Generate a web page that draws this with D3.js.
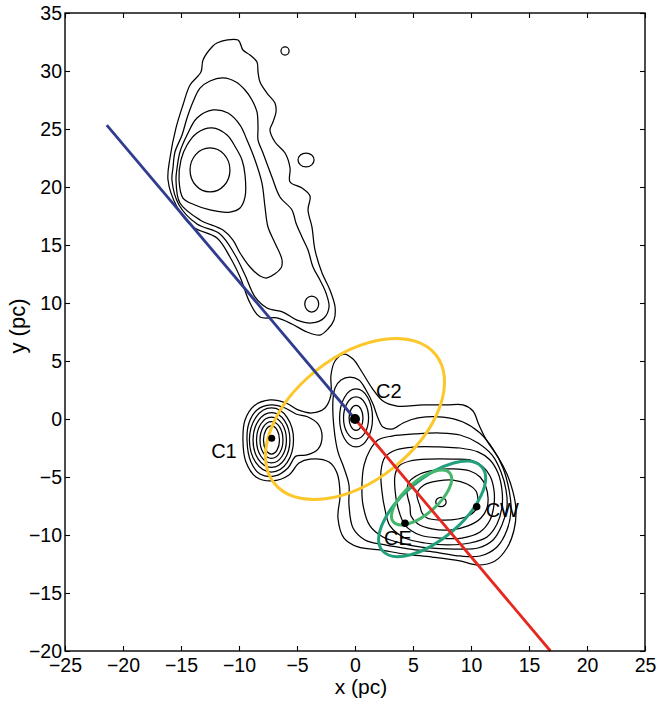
<!DOCTYPE html>
<html><head><meta charset="utf-8">
<script src="https://cdn.jsdelivr.net/npm/d3@7"></script>
<style>
body{margin:0;background:#fff}
svg{display:block}
text{font-family:"Liberation Sans",Arial,Helvetica,sans-serif;fill:#000}
</style>
</head><body>
<svg id="chart" width="658" height="704"></svg>
<script>
// ---------- axes ----------
const xDomain = [-25, 25];
const yDomain = [-20, 35];
const xTicks = [-25, -20, -15, -10, -5, 0, 5, 10, 15, 20, 25];
const yTicks = [-20, -15, -10, -5, 0, 5, 10, 15, 20, 25, 30, 35];
const xLabel = "x (pc)";
const yLabel = "y (pc)";

// ---------- contour polygons (pc) ----------
const northL1 = [[-12.33,32.07],[-11.90,32.41],[-10.09,32.67],[-9.66,31.81],[-9.05,31.38],[-8.45,30.78],[-8.36,29.91],[-8.19,29.05],[-7.59,28.10],[-6.90,27.24],[-6.81,26.47],[-7.07,25.60],[-7.33,24.91],[-6.90,23.88],[-6.03,22.93],[-5.60,21.64],[-5.60,20.43],[-4.57,19.91],[-3.88,19.22],[-4.05,18.02],[-3.71,16.55],[-3.45,14.57],[-2.84,12.59],[-2.16,11.12],[-1.72,9.66],[-1.81,8.53],[-2.33,7.76],[-3.02,7.24],[-4.14,7.50],[-5.43,8.19],[-6.72,8.71],[-8.19,8.79],[-9.05,10.00],[-9.91,12.24],[-10.78,13.97],[-11.90,15.60],[-13.97,16.55],[-15.34,18.28],[-16.12,20.60],[-15.95,22.50],[-15.43,25.09],[-14.83,27.07],[-14.22,28.79],[-13.28,29.91],[-13.10,30.95]];
const northL2 = [[-11.38,29.40],[-10.26,29.05],[-9.48,28.36],[-8.88,27.50],[-8.45,26.47],[-8.36,25.09],[-8.36,24.05],[-7.93,22.93],[-7.16,20.86],[-6.47,19.14],[-5.43,18.02],[-5.09,16.90],[-4.57,15.69],[-4.05,14.57],[-3.62,13.10],[-3.02,11.98],[-2.50,10.86],[-2.24,9.66],[-2.67,8.71],[-3.71,8.28],[-5.00,8.53],[-6.21,9.22],[-7.59,9.57],[-8.62,10.52],[-9.48,12.41],[-10.34,14.14],[-11.64,15.95],[-13.62,16.81],[-15.17,18.45],[-15.78,20.60],[-15.69,21.64],[-15.52,23.02],[-14.91,24.48],[-14.48,25.95],[-13.97,27.33],[-13.36,28.53],[-12.50,29.14]];
const northL3 = [[-12.24,26.64],[-10.95,26.38],[-9.91,25.34],[-9.31,24.05],[-8.62,22.33],[-8.02,20.34],[-7.76,18.28],[-7.50,16.55],[-6.90,15.17],[-6.29,13.71],[-6.38,13.02],[-7.59,12.16],[-8.19,12.33],[-9.05,13.10],[-9.91,14.31],[-10.52,15.43],[-11.38,16.29],[-13.36,17.16],[-15.09,18.62],[-15.43,20.60],[-15.34,21.64],[-15.09,23.02],[-14.48,24.48],[-13.62,25.95]];
const northL4 = [[-12.33,25.09],[-11.03,24.48],[-10.26,23.36],[-9.74,22.33],[-9.48,21.03],[-9.48,19.14],[-9.91,18.19],[-10.78,17.84],[-12.50,18.02],[-13.79,18.45],[-14.83,19.05],[-15.17,20.60],[-15.00,22.33],[-14.48,23.62],[-13.62,24.66]];

const centralA = [[-9.66,-1.81],[-9.48,-0.09],[-8.71,1.12],[-7.33,1.64],[-5.95,1.38],[-4.91,0.78],[-3.71,0.52],[-2.59,0.95],[-2.07,2.07],[-2.07,3.79],[-1.72,5.00],[-0.95,5.60],[-0.17,5.17],[0.60,4.05],[1.47,2.67],[2.41,1.55],[3.62,1.12],[5.86,1.21],[7.93,1.21],[9.31,1.21],[10.17,0.69],[10.69,-0.52],[11.38,-1.90],[12.33,-3.28],[13.10,-4.74],[13.62,-6.29],[13.88,-7.84],[13.71,-9.57],[13.10,-11.12],[12.07,-12.24],[10.60,-12.59],[9.05,-12.24],[6.64,-11.90],[4.31,-11.64],[2.16,-11.29],[0.26,-11.03],[-0.95,-10.26],[-1.47,-8.53],[-1.29,-6.55],[-1.55,-4.66],[-2.24,-3.71],[-3.88,-3.45],[-4.83,-3.79],[-5.69,-4.83],[-7.16,-5.34],[-8.53,-5.00],[-9.40,-3.71]];
const centralB = [[-9.31,-1.81],[-9.14,-0.34],[-8.45,0.78],[-7.24,1.21],[-6.03,0.95],[-5.09,0.43],[-4.05,0.17],[-3.19,-0.43],[-2.84,-1.47],[-3.19,-2.60],[-4.14,-3.10],[-5.09,-3.20],[-5.78,-4.22],[-6.90,-4.91],[-8.19,-4.74],[-8.97,-3.71]];
const centralC = [[-1.90,1.64],[-1.72,2.67],[-1.21,3.36],[-0.43,3.62],[0.34,3.36],[0.95,2.50],[1.55,1.29],[1.98,0.09],[2.41,-0.69],[3.28,-0.86],[4.14,-0.34],[5.43,0.09],[7.59,0.17],[9.31,-0.26],[10.78,-1.21],[11.90,-2.59],[12.76,-4.22],[13.28,-6.12],[13.45,-7.84],[13.10,-9.57],[12.24,-11.03],[10.78,-11.81],[9.05,-11.81],[6.90,-11.47],[4.74,-11.21],[2.59,-10.86],[0.86,-10.43],[-0.17,-9.40],[-0.52,-7.41],[-0.52,-5.69],[-0.95,-4.22],[-1.47,-2.84],[-1.81,-0.78]];
const seD = [[0.69,-7.41],[0.60,-5.69],[0.78,-3.97],[1.29,-2.67],[1.98,-1.81],[3.19,-1.47],[5.17,-1.29],[7.33,-1.21],[9.05,-1.38],[10.60,-2.07],[11.81,-3.10],[12.59,-4.57],[13.02,-6.12],[13.10,-7.59],[12.67,-9.14],[11.90,-10.43],[10.60,-11.12],[8.62,-11.21],[6.47,-11.12],[4.31,-10.78],[2.41,-10.17],[1.29,-9.22]];
const seT5 = [[2.59,-7.84],[2.33,-6.29],[2.24,-4.48],[2.59,-3.28],[3.53,-2.67],[5.17,-2.41],[7.33,-2.41],[9.05,-2.50],[10.60,-2.84],[11.64,-3.53],[12.33,-4.66],[12.67,-6.12],[12.67,-7.59],[12.24,-9.05],[11.38,-10.17],[9.91,-10.69],[8.02,-10.86],[6.03,-10.69],[4.31,-10.26],[3.02,-9.22]];
const seT4 = [[3.71,-7.67],[3.45,-6.12],[3.45,-4.83],[3.79,-4.05],[4.74,-3.62],[6.47,-3.45],[8.45,-3.45],[9.91,-3.53],[10.95,-4.05],[11.64,-4.91],[11.98,-6.12],[11.98,-7.41],[11.64,-8.71],[10.78,-9.74],[9.22,-10.26],[7.33,-10.26],[5.60,-10.00],[4.31,-9.14]];
const seT3 = [[4.74,-7.50],[4.48,-6.29],[4.66,-5.43],[5.60,-4.74],[6.90,-4.40],[8.45,-4.31],[9.91,-4.48],[10.78,-5.00],[11.29,-5.86],[11.47,-6.81],[11.38,-7.67],[10.86,-8.53],[9.74,-9.22],[8.19,-9.57],[6.64,-9.48],[5.43,-9.05],[4.83,-8.36]];
const seT2 = [[5.60,-7.50],[5.34,-6.47],[5.95,-5.69],[7.16,-5.34],[8.45,-5.26],[9.66,-5.60],[10.43,-6.21],[10.60,-6.98],[10.52,-7.67],[9.91,-8.28],[8.88,-8.62],[7.33,-8.71],[6.21,-8.53],[5.78,-8.10]];

const contourPolys = [northL1, northL2, northL3, northL4, centralA, centralB, centralC, seD, seT5, seT4, seT3, seT2];

// small closed contours described as ellipses (centre, semi-axes, pc)
const ringCx = [-12.5, -6.03, -4.22, -3.73, 7.41, -7.2, -7.2, -7.2, -7.2, -7.2, 0.09, 0.09, 0.09];
const ringCy = [21.47, 31.72, 22.33, 9.91, -7.16, -1.81, -1.81, -1.81, -1.81, -1.81, 0.09, 0.09, 0.09];
const ringRx = [1.72, 0.35, 0.69, 0.6, 0.45, 0.69, 0.99, 1.29, 1.59, 1.9, 0.6, 1.08, 1.42];
const ringRy = [1.9, 0.35, 0.6, 0.69, 0.4, 1.21, 1.59, 1.98, 2.37, 2.76, 1.08, 1.81, 2.5];

// ---------- overlays ----------
const jetNorth = [[-21.4, 25.34], [0, 0]];
const jetSouth = [[0, 0], [16.85, -20]];
// ellipses: centre x, centre y, semi-major, semi-minor, angle (deg)
const ellipseNames = ["yellow", "greenOuter", "greenInner"];
const ellipseCx = [0, 6.65, 5.74];
const ellipseCy = [0, -7.75, -6.77];
const ellipseA = [8.9, 5.6, 3.22];
const ellipseB = [5.35, 2.6, 1.4];
const ellipseAngle = [38.5, 40, 41];
// sources
const srcNames = ["C1", "C2", "CE", "CW"];
const srcX = [-7.18, 0, 4.31, 10.49];
const srcY = [-1.66, 0, -8.99, -7.56];

// ---------- drawing ----------
const L = 65, R = 645, T = 13, B = 651;
const svg = d3.select("#chart");
const x = d3.scaleLinear().domain(xDomain).range([L, R]);
const y = d3.scaleLinear().domain(yDomain).range([B, T]);

const plot = svg.append("g");

const lineGen = d3.line().x(d => x(d[0])).y(d => y(d[1])).curve(d3.curveCatmullRomClosed.alpha(0.5));
plot.selectAll("path.contour").data(contourPolys).join("path")
  .attr("class", "contour").attr("d", lineGen)
  .attr("fill", "none").attr("stroke", "#000").attr("stroke-width", 1.25);

const rings = ringCx.map((cx, i) => ({cx, cy: ringCy[i], rx: ringRx[i], ry: ringRy[i]}));
plot.selectAll("ellipse.ring").data(rings).join("ellipse")
  .attr("class", "ring")
  .attr("cx", d => x(d.cx)).attr("cy", d => y(d.cy))
  .attr("rx", d => x(d.cx + d.rx) - x(d.cx)).attr("ry", d => y(d.cy - d.ry) - y(d.cy))
  .attr("fill", "none").attr("stroke", "#000").attr("stroke-width", 1.25);

const ellColors = {yellow: "#fbc72a", greenOuter: "#22a07c", greenInner: "#44b76c"};
const ells = ellipseNames.map((n, i) => ({n, cx: ellipseCx[i], cy: ellipseCy[i], a: ellipseA[i], b: ellipseB[i], ang: ellipseAngle[i]}));
plot.selectAll("ellipse.ov").data(ells).join("ellipse")
  .attr("class", "ov")
  .attr("cx", d => x(d.cx)).attr("cy", d => y(d.cy))
  .attr("rx", d => x(d.cx + d.a) - x(d.cx)).attr("ry", d => x(d.cx + d.b) - x(d.cx))
  .attr("transform", d => `rotate(${-d.ang},${x(d.cx)},${y(d.cy)})`)
  .attr("fill", "none").attr("stroke", d => ellColors[d.n]).attr("stroke-width", 3);

const segGen = d3.line().x(d => x(d[0])).y(d => y(d[1]));
plot.append("path").attr("d", segGen(jetNorth)).attr("stroke", "#303c8e").attr("stroke-width", 2.8).attr("fill", "none");
plot.append("path").attr("d", segGen(jetSouth)).attr("stroke", "#e5281f").attr("stroke-width", 2.8).attr("fill", "none");

const srcR = {C1: 3.5, C2: 5, CE: 3.8, CW: 3.8};
const srcOff = {C1: [-35, 20, "end"], C2: [21, -21, "start"], CE: [-21, 22, "start"], CW: [9, 10, "start"]};
const srcs = srcNames.map((n, i) => ({n, x: srcX[i], y: srcY[i]}));
plot.selectAll("circle.src").data(srcs).join("circle")
  .attr("class", "src").attr("cx", d => x(d.x)).attr("cy", d => y(d.y)).attr("r", d => srcR[d.n]).attr("fill", "#000");
plot.selectAll("text.src").data(srcs).join("text")
  .attr("class", "src")
  .attr("x", d => x(d.x) + srcOff[d.n][0]).attr("y", d => y(d.y) + srcOff[d.n][1])
  .attr("text-anchor", d => srcOff[d.n][2])
  .style("font-size", "20px").text(d => d.n);

// axes with inward ticks
const fmt = d3.format("d");
const ax = svg.append("g");
ax.append("g").attr("transform", `translate(0,${B})`)
  .call(d3.axisBottom(x).tickValues(xTicks).tickSize(-5).tickPadding(7).tickFormat(fmt))
  .call(g => g.select(".domain").remove())
  .call(g => g.selectAll("text").style("font-size", "19.5px").style("font-family", '"Liberation Sans",Arial,sans-serif').attr("fill", "#000"));
ax.append("g").attr("transform", `translate(0,${T})`)
  .call(d3.axisTop(x).tickValues(xTicks).tickSize(-5).tickFormat(""))
  .call(g => g.select(".domain").remove());
ax.append("g").attr("transform", `translate(${L},0)`)
  .call(d3.axisLeft(y).tickValues(yTicks).tickSize(-5).tickPadding(3).tickFormat(fmt))
  .call(g => g.select(".domain").remove())
  .call(g => g.selectAll("text").style("font-size", "19.5px").style("font-family", '"Liberation Sans",Arial,sans-serif').attr("fill", "#000"));
ax.append("g").attr("transform", `translate(${R},0)`)
  .call(d3.axisRight(y).tickValues(yTicks).tickSize(-5).tickFormat(""))
  .call(g => g.select(".domain").remove());
ax.selectAll(".tick line").attr("stroke", "#000").attr("stroke-width", 1.1);

svg.append("rect").attr("x", L).attr("y", T).attr("width", R - L).attr("height", B - T)
  .attr("fill", "none").attr("stroke", "#000").attr("stroke-width", 1.4);

svg.append("text").attr("x", 361).attr("y", 694).attr("text-anchor", "middle")
  .style("font-size", "21px").text(xLabel);
svg.append("text").attr("transform", "translate(25,326) rotate(-90)").attr("text-anchor", "middle")
  .style("font-size", "22px").text(yLabel);
</script>
</body></html>
